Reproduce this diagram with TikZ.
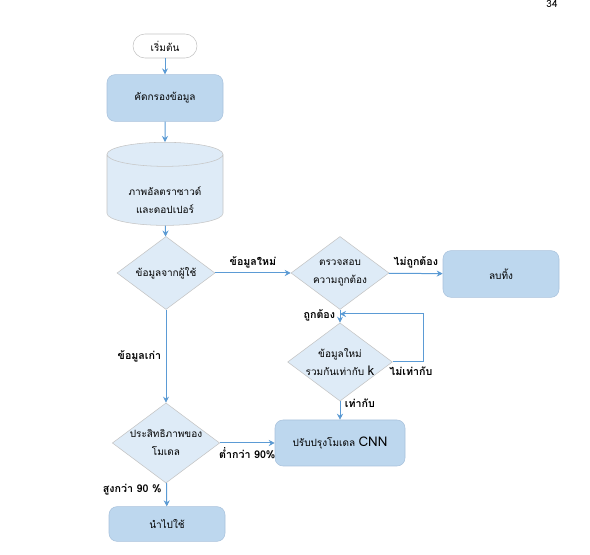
\documentclass[tikz,border=0pt]{standalone}
\usepackage{fontspec}
\setmainfont[Script=Thai]{Loma}
\usetikzlibrary{shapes.geometric,arrows.meta}
\definecolor{boxblue}{HTML}{BDD7EE}
\definecolor{boxline}{HTML}{A9C2DC}
\definecolor{paleblue}{HTML}{DEEBF7}
\definecolor{edgegray}{HTML}{C4C4C4}
\definecolor{flowblue}{HTML}{5B9BD5}
\begin{document}
\begin{tikzpicture}[x=0.75pt,y=-0.75pt,
    >={Stealth[length=4.5pt,width=4.5pt]},
    every node/.style={font=\fontsize{7.5}{13.5}\selectfont, align=center},
    startstop/.style={rectangle, rounded corners=9pt, draw=edgegray, fill=white, minimum width=48pt, minimum height=18pt},
    process/.style={rectangle, rounded corners=6pt, draw=boxline, fill=boxblue, minimum width=87pt, minimum height=35pt},
    decision/.style={diamond, aspect=1.34, inner sep=0pt, draw=edgegray, fill=paleblue, minimum width=73.5pt, minimum height=54.75pt},
    store/.style={cylinder, shape border rotate=90, aspect=0.33, inner sep=0pt, text height=35pt, draw=edgegray, cylinder uses custom fill, cylinder body fill=paleblue, cylinder end fill=paleblue, minimum width=87pt, minimum height=53pt},
    label/.style={font=\fontsize{8}{9}\selectfont\bfseries},
    flow/.style={->, draw=flowblue, line width=0.75pt}]
    \useasboundingbox (0,0) rectangle (590,555);
    \node [font=\fontsize{7.5}{9}\selectfont] (pagenum) at (552,4) {34};
    \node [startstop] (start) at (165,46) {เริ่มต้น};
    \node [process] (filter) at (165,98) {คัดกรองข้อมูล};
    \node [store] (images) at (165,190) {ภาพอัลตราซาวด์\\และดอปเปอร์};
    \node [decision] (fromuser) at (166,273) {ข้อมูลจากผู้ใช้};
    \node [decision] (verify) at (340,273) {ตรวจสอบ\\ความถูกต้อง};
    \node [process] (discard) at (501,274) {ลบทิ้ง};
    \node [decision] (combine) at (340,362) {ข้อมูลใหม่\\รวมกันเท่ากับ {\fontsize{10}{12}\selectfont k}};
    \node [decision] (perf) at (166,443) {ประสิทธิภาพของ\\โมเดล};
    \node [process, minimum width=97.5pt, minimum height=34.5pt] (improve) at (340,443) {ปรับปรุงโมเดล {\fontsize{10}{12}\selectfont CNN}};
    \node [process, minimum height=26pt] (deploy) at (167,524) {นำไปใช้};
    \coordinate (loopcorner) at (423,314);
    \coordinate (loopend) at (340,314);
    \path[flow] (start) edge (filter);
    \path[flow] (filter) edge (images);
    \path[flow] (images) edge (fromuser);
    \path[flow] (fromuser) edge node [label, above] {ข้อมูลใหม่} (verify);
    \path[flow] (fromuser) edge node [label, left] {ข้อมูลเก่า} (perf);
    \path[flow] (verify) edge node [label, above] {ไม่ถูกต้อง} (discard);
    \path[flow] (verify) edge node [label, left, pos=0.4] {ถูกต้อง} (combine);
    \path[flow] (combine) edge node [label, right, pos=0.1] {เท่ากับ} (improve);
    \path[flow] (perf) edge node [label, below] {ต่ำกว่า 90\%} (improve);
    \path[flow] (perf) edge node [label, left, pos=0.3] {สูงกว่า 90 \%} (deploy);
    \draw[flow] (combine.east) -| (loopcorner) node [label, pos=0.3, below] {ไม่เท่ากับ} -- (loopend);
\end{tikzpicture}
\end{document}
